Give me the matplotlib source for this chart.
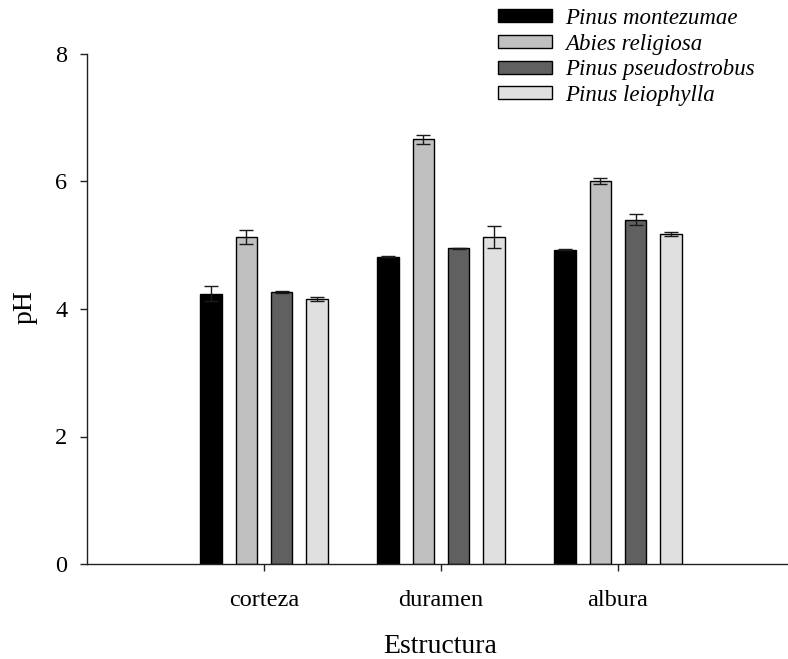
import numpy as np
import matplotlib
matplotlib.use("Agg")
import matplotlib.pyplot as plt

plt.rcParams["font.family"] = ["Liberation Serif", "DejaVu Serif"]

# data
structures = ["corteza", "duramen", "albura"]
species = ["Pinus montezumae", "Abies religiosa", "Pinus pseudostrobus", "Pinus leiophylla"]
montezumae = [4.24, 4.82, 4.93]
montezumae_err = [0.115, 0.01, 0.01]
religiosa = [5.13, 6.66, 6.01]
religiosa_err = [0.11, 0.075, 0.05]
pseudostrobus = [4.26, 4.95, 5.40]
pseudostrobus_err = [0.015, 0.01, 0.09]
leiophylla = [4.16, 5.13, 5.18]
leiophylla_err = [0.035, 0.177, 0.035]

values = [montezumae, religiosa, pseudostrobus, leiophylla]
errors = [montezumae_err, religiosa_err, pseudostrobus_err, leiophylla_err]
colors = ["#000000", "#c0c0c0", "#606060", "#e0e0e0"]

fig = plt.figure(figsize=(7.88, 6.59), dpi=100)
ax = fig.add_axes([87 / 788, 95 / 659, 700 / 788, 510 / 659])

x = np.arange(1, len(structures) + 1)
width = 0.121
step = 0.2
handles = []
for i, (vals, errs, col) in enumerate(zip(values, errors, colors)):
    pos = x + (i - 1.5) * step
    b = ax.bar(pos, vals, width, color=col, edgecolor="black", linewidth=1.0,
               label=species[i], zorder=2)
    ax.errorbar(pos, vals, yerr=errs, fmt="none", ecolor="#1a1a1a", elinewidth=1.0,
                capsize=5, capthick=1.0, zorder=3)
    handles.append(b)

ax.set_xlim(0, 3.955)
ax.set_ylim(0, 8)
ax.set_yticks([0, 2, 4, 6, 8])
ax.set_xticks(x)
ax.set_xticklabels(structures)
for s in ["top", "right"]:
    ax.spines[s].set_visible(False)
for s in ["left", "bottom"]:
    ax.spines[s].set_linewidth(1.0)
    ax.spines[s].set_color("#222222")
ax.tick_params(axis="both", direction="out", length=5, width=1.0, color="#222222",
               labelsize=17.5)
ax.tick_params(axis="y", pad=9)
ax.tick_params(axis="x", pad=14)

ax.set_xlabel("Estructura", fontsize=20, va="baseline")
ax.xaxis.set_label_coords(0.504, -0.174)
ax.set_ylabel("pH", fontsize=20, va="center")
ax.yaxis.set_label_coords(-0.0886, 0.504)

leg = ax.legend(handles=handles, loc="upper left", bbox_to_anchor=(498 / 788, 1 - 8 / 659),
                bbox_transform=fig.transFigure, frameon=False, borderpad=0, borderaxespad=0,
                handlelength=2.35, handleheight=0.5, handletextpad=0.6, labelspacing=0.2,
                prop={"style": "italic", "size": 16.5})

fig.savefig("out.png", dpi=100)
